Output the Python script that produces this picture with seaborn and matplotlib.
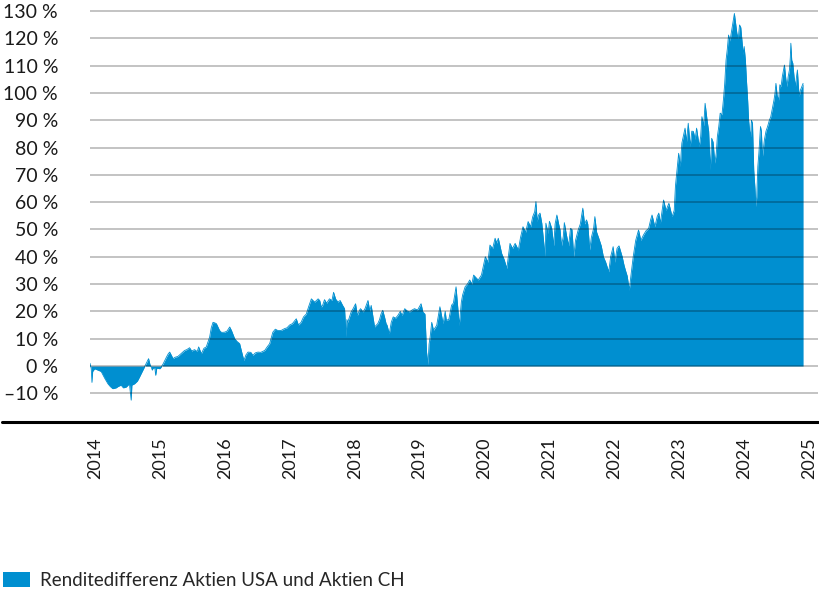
import pandas as pd
import matplotlib
matplotlib.use("Agg")
import matplotlib.pyplot as plt
import matplotlib.dates as mdates
import matplotlib.transforms as mtransforms
from matplotlib.lines import Line2D
from matplotlib.patches import Patch
from matplotlib.ticker import FuncFormatter
import seaborn as sns

# Renditedifferenz (in %), one block per year
days_2014 = ["01-01", "01-08", "01-12", "01-16", "01-27", "02-15", "03-05", "03-25", "04-12",
             "04-25", "05-09", "05-28", "06-08", "06-25", "07-08", "07-24", "08-11", "08-21",
             "08-25", "09-09", "09-25", "10-07", "10-26", "11-14", "11-27", "12-05", "12-12",
             "12-18", "12-22"]
vals_2014 = [1.0, -1.0, -6.0, -2.0, -1.0, -1.5, -2.0, -4.5, -6.5,
             -7.5, -8.3, -8.0, -7.5, -7.0, -8.0, -7.7, -6.5, -12.5,
             -7.0, -6.5, -5.5, -4.0, -1.5, 1.0, 2.7, 0.5, -0.4,
             -1.5, -0.8]

days_2015 = ["01-01", "01-06", "01-12", "01-29", "02-05", "02-17", "03-08", "03-18", "03-26",
             "04-14", "04-25", "05-11", "05-28", "06-18", "06-30", "07-16", "07-28", "08-13",
             "08-28", "09-05", "09-20", "10-05", "10-18", "11-06", "11-15", "11-25", "12-05",
             "12-14"]
vals_2015 = [-0.6, -3.4, -0.8, -1.0, -0.5, 0.8, 3.3, 4.5, 5.1,
             2.7, 3.2, 3.5, 4.5, 5.7, 6.0, 6.7, 5.5, 6.0,
             5.3, 7.0, 4.5, 6.5, 7.0, 10.6, 14.0, 16.0, 15.8,
             15.5]

days_2016 = ["01-01", "01-12", "01-30", "02-12", "02-27", "03-08", "03-26", "04-08", "04-23",
             "05-05", "05-17", "05-28", "06-09", "06-25", "07-07", "07-20", "08-04", "08-20",
             "09-11", "09-25", "10-09", "10-27", "11-10", "11-24", "12-12"]
vals_2016 = [13.0, 12.3, 12.4, 12.8, 14.3, 13.0, 10.0, 9.0, 8.2,
             5.0, 2.0, 4.0, 5.1, 5.0, 3.9, 4.8, 5.1, 5.0,
             5.7, 7.0, 8.2, 12.4, 13.5, 13.0, 13.0]

days_2017 = ["01-01", "01-15", "01-29", "02-14", "03-08", "03-20", "04-04", "04-18", "05-03",
             "05-18", "06-01", "06-10", "06-20", "07-09", "07-18", "07-27", "08-02", "08-14",
             "08-26", "09-11", "09-25", "10-04", "10-16", "10-29", "11-10", "11-24", "12-05",
             "12-14", "12-18", "12-23"]
vals_2017 = [13.7, 14.0, 15.0, 15.5, 17.3, 15.0, 16.0, 18.0, 19.0,
             22.0, 24.6, 24.0, 23.4, 24.6, 24.0, 21.6, 22.0, 24.3,
             23.0, 24.6, 24.0, 27.0, 24.5, 23.4, 24.0, 22.2, 21.0,
             10.6, 17.0, 16.0]

days_2018 = ["01-11", "01-22", "02-05", "02-15", "02-27", "03-05", "03-19", "03-30", "04-16",
             "04-26", "05-04", "05-14", "05-23", "06-10", "06-20", "06-28", "07-08", "07-18",
             "07-27", "08-01", "08-14", "08-25", "09-05", "09-18", "10-01", "10-15", "10-25",
             "11-09", "11-22", "12-06", "12-20"]
vals_2018 = [19.8, 21.0, 22.8, 18.5, 20.4, 21.0, 19.8, 21.0, 24.0,
             20.0, 22.2, 18.0, 14.3, 15.5, 17.0, 19.0, 20.4, 18.0,
             15.5, 15.0, 11.8, 16.0, 18.0, 17.5, 18.5, 20.0, 18.5,
             21.0, 20.2, 19.8, 20.5]

days_2019 = ["01-03", "01-20", "02-09", "02-19", "03-03", "03-12", "03-20", "03-26", "04-01",
             "04-10", "04-20", "05-08", "05-26", "06-13", "06-25", "07-01", "07-15", "07-31",
             "08-10", "08-25", "09-12", "09-24", "10-01", "10-15", "10-28", "11-10", "11-22",
             "12-02", "12-28"]
vals_2019 = [21.0, 20.5, 22.8, 19.8, 19.0, 5.0, 0.5, 8.0, 10.6,
             16.0, 13.1, 14.9, 21.7, 15.5, 20.0, 16.8, 17.0, 22.3,
             23.0, 29.0, 14.9, 23.5, 26.0, 29.0, 30.0, 31.5, 30.0,
             33.3, 31.5]

days_2020 = ["01-15", "02-06", "02-20", "03-03", "03-18", "04-01", "04-10", "04-19", "05-08",
             "05-22", "06-06", "06-24", "07-08", "07-23", "08-10", "08-22", "09-05", "09-20",
             "10-04", "10-18", "10-30", "11-10", "11-17", "11-24", "12-02", "12-10", "12-20"]
vals_2020 = [33.3, 40.0, 38.0, 44.3, 43.0, 46.8, 45.0, 46.8, 41.2,
             39.0, 35.7, 44.9, 43.0, 44.9, 42.5, 47.0, 51.0, 49.0,
             52.9, 51.0, 54.7, 56.5, 60.2, 53.0, 55.3, 56.0, 52.3]

days_2021 = ["01-08", "01-12", "01-25", "02-01", "02-14", "02-25", "03-05", "03-15", "03-25",
             "04-02", "04-10", "04-20", "04-26", "05-08", "05-20", "05-31", "06-08", "06-18",
             "06-28", "07-13", "07-25", "08-08", "08-18", "08-29", "09-05", "09-16", "09-25",
             "10-08", "10-15", "10-25", "11-06", "11-20", "12-02", "12-15"]
vals_2021 = [40.0, 52.3, 48.5, 53.0, 50.4, 44.0, 52.0, 55.3, 52.0,
             49.8, 44.0, 47.4, 52.5, 48.0, 44.0, 50.4, 50.0, 40.0,
             46.0, 49.8, 52.0, 57.8, 52.0, 53.5, 52.0, 42.5, 47.0,
             50.4, 54.7, 49.0, 46.8, 44.0, 40.0, 38.0]

days_2022 = ["01-01", "01-12", "01-26", "02-05", "02-17", "02-28", "03-18", "03-28", "04-05",
             "04-15", "04-27", "05-06", "05-19", "06-02", "06-18", "07-01", "07-16", "07-30",
             "08-14", "08-25", "09-02", "09-18", "10-01", "10-10", "10-19", "10-27", "11-06",
             "11-20", "12-06", "12-24"]
vals_2022 = [34.5, 40.0, 43.7, 38.0, 43.1, 44.0, 40.0, 37.0, 35.1,
             33.0, 27.8, 33.0, 40.0, 46.0, 49.8, 46.0, 48.0, 49.5,
             50.4, 53.5, 55.3, 51.0, 54.7, 56.0, 52.3, 56.0, 60.8,
             57.0, 59.6, 54.7]

days_2023 = ["01-05", "01-12", "01-30", "02-08", "02-17", "03-07", "03-15", "03-25", "04-05",
             "04-14", "04-23", "05-03", "05-11", "05-26", "06-03", "06-10", "06-20", "06-28",
             "07-09", "07-18", "07-27", "08-04", "08-12", "08-22", "08-30", "09-05", "09-13",
             "09-21", "10-01", "10-09", "10-16", "10-24", "10-31", "11-07", "11-15", "11-25",
             "12-02", "12-10", "12-16", "12-24"]
vals_2023 = [57.0, 66.0, 77.9, 73.0, 81.6, 87.1, 82.0, 88.9, 80.4,
             86.0, 85.9, 83.0, 87.1, 80.4, 84.0, 91.3, 88.0, 96.2,
             90.1, 86.0, 71.8, 83.4, 82.0, 74.3, 78.0, 84.0, 87.7,
             92.6, 92.0, 97.4, 103.0, 112.0, 116.0, 121.2, 119.0, 123.0,
             126.0, 129.1, 126.0, 121.8]

days_2024 = ["01-01", "01-08", "01-15", "01-23", "01-29", "02-03", "02-10", "02-17", "02-23",
             "02-28", "03-05", "03-10", "03-15", "03-21", "03-28", "04-04", "04-09", "04-14",
             "04-20", "04-26", "05-05", "05-10", "05-16", "05-22", "05-27", "06-05", "06-14",
             "06-24", "07-02", "07-10", "07-20", "07-26", "07-31", "08-07", "08-15", "08-22",
             "08-29", "09-05", "09-17", "09-25", "10-01", "10-08", "10-15", "10-20", "10-23",
             "10-28", "11-03", "11-10", "11-18", "11-24", "11-29", "12-04", "12-09", "12-16",
             "12-24", "12-31"]
vals_2024 = [120.0, 124.9, 124.0, 118.2, 114.0, 117.0, 112.0, 103.5, 97.0,
             90.1, 86.0, 84.0, 90.0, 88.9, 71.8, 65.0, 58.4, 62.0,
             73.1, 78.0, 87.7, 86.0, 76.7, 80.0, 82.8, 86.0, 87.7,
             90.0, 91.3, 94.0, 97.4, 100.0, 103.5, 99.0, 97.4, 103.0,
             102.3, 106.0, 110.2, 105.0, 102.3, 106.0, 108.4, 113.0, 118.2,
             112.0, 110.9, 106.0, 102.3, 106.0, 108.4, 103.0, 98.7, 101.0,
             102.3, 103.5]

years = list(range(2014, 2026))
y_ticks = list(range(-10, 131, 10))
series_label = "Renditedifferenz Aktien USA und Aktien CH"

blue = "#008fd0"

blocks = [
    (2014, days_2014, vals_2014), (2015, days_2015, vals_2015), (2016, days_2016, vals_2016),
    (2017, days_2017, vals_2017), (2018, days_2018, vals_2018), (2019, days_2019, vals_2019),
    (2020, days_2020, vals_2020), (2021, days_2021, vals_2021), (2022, days_2022, vals_2022),
    (2023, days_2023, vals_2023), (2024, days_2024, vals_2024),
]
frames = [pd.DataFrame({"date": pd.to_datetime([f"{yr}-{d}" for d in ds]), "value": vs})
          for yr, ds, vs in blocks]
df = pd.concat(frames, ignore_index=True)

sns.set_theme(style="white")
plt.rcParams["font.family"] = ["Lato", "DejaVu Sans"]

fig = plt.figure(figsize=(8.2, 5.92), dpi=100)
ax = fig.add_axes([90 / 820, (592 - 422) / 592, (818 - 90) / 820, 414 / 592])

ax.fill_between(df["date"], 0, df["value"], color=blue, lw=0, zorder=1)
sns.lineplot(data=df, x="date", y="value", color=blue, lw=0.6, ax=ax, zorder=2)

ax.set_ylim(-20.5, 131.1)
ax.set_xlim(pd.Timestamp("2014-01-01"), pd.Timestamp("2025-03-25"))
ax.set_yticks(y_ticks)
ax.yaxis.set_major_formatter(FuncFormatter(
    lambda v, pos: f"{int(v)} %" if v >= 0 else f"\u2013{abs(int(v))} %"))
ax.set_xticks([pd.Timestamp(f"{y}-01-01") for y in years])
ax.xaxis.set_major_formatter(mdates.DateFormatter("%Y"))

ax.set_axisbelow(False)
ax.yaxis.grid(True, color="black", alpha=0.3, lw=1.1)
ax.xaxis.grid(False)
for s in ax.spines.values():
    s.set_visible(False)

ax.tick_params(axis="y", length=0, pad=23, labelsize=14, labelcolor="#1a1a1a")
ax.tick_params(axis="x", length=0, pad=11, labelsize=13, labelcolor="#1a1a1a")
offset = mtransforms.ScaledTranslation(5.5 / 100, 0, fig.dpi_scale_trans)
for lab in ax.get_xticklabels():
    lab.set_rotation(90)
    lab.set_ha("center")
    lab.set_va("top")
    lab.set_transform(lab.get_transform() + offset)

ax.set_xlabel("")
ax.set_ylabel("")

# thick black base line across the full width
fig.add_artist(Line2D([2 / 820, 818 / 820], [1 - 422 / 592] * 2,
                      color="black", lw=2.2, transform=fig.transFigure))

handle = Patch(facecolor=blue, edgecolor="none", label=series_label)
fig.legend(handles=[handle], loc="lower left", bbox_to_anchor=(3 / 820, 3 / 592),
           frameon=False, fontsize=13.5, handlelength=1.45, handleheight=0.78,
           handletextpad=0.5, borderpad=0, borderaxespad=0)

fig.savefig("out.png", dpi=100)
